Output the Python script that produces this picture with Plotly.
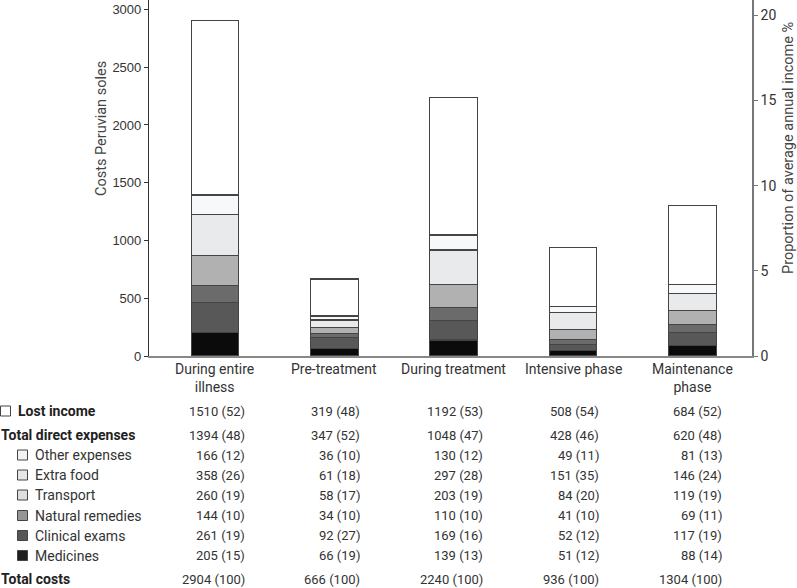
import plotly.graph_objects as go

# ---------------- data ----------------
categories = ["During entire<br>illness", "Pre-treatment", "During treatment",
              "Intensive phase", "Maintenance<br>phase"]

medicines = [205, 66, 139, 51, 88]
clinical_exams = [261, 92, 169, 52, 117]
natural_remedies = [144, 34, 110, 41, 69]
transport = [260, 58, 203, 84, 119]
extra_food = [358, 61, 297, 151, 146]
other_expenses = [166, 36, 130, 49, 81]
lost_income = [1510, 319, 1192, 508, 684]
total_direct = [1394, 347, 1048, 428, 620]
total_costs = [2904, 666, 2240, 936, 1304]

pct_lost_income = [52, 48, 53, 54, 52]
pct_total_direct = [48, 52, 47, 46, 48]
pct_other = [12, 10, 12, 11, 13]
pct_extra_food = [26, 18, 28, 35, 24]
pct_transport = [19, 17, 19, 20, 19]
pct_natural = [10, 10, 10, 10, 11]
pct_clinical = [19, 27, 16, 12, 19]
pct_medicines = [15, 19, 13, 12, 14]
pct_total = [100, 100, 100, 100, 100]

# ---------------- layout helpers ----------------
W, H = 797, 588
L, R, T, B = 149, 45, 0, 232
PW, PH = W - L - R, H - T - B


def pxx(px):
    return (px - L) / PW


def pxy(py):
    return (PH - py) / PH


FONT = "Roboto, 'Open Sans', sans-serif"
TXT = "#333333"
xs = list(range(len(categories)))

series = [
    ("Medicines", medicines, "#0b0b0b"),
    ("Clinical exams", clinical_exams, "#585858"),
    ("Natural remedies", natural_remedies, "#6b6b6b"),
    ("Transport", transport, "#b1b1b1"),
    ("Extra food", extra_food, "#e9eaec"),
    ("Other expenses", other_expenses, "#f7f8fa"),
    ("Lost income", lost_income, "#ffffff"),
]

fig = go.Figure()
for name, vals, col in series:
    fig.add_trace(go.Bar(
        x=xs, y=vals, name=name, width=0.40,
        marker=dict(color=col, line=dict(color="#444444", width=1.2)),
        showlegend=False,
    ))
# invisible trace to anchor the right axis
fig.add_trace(go.Scatter(x=[None], y=[None], yaxis="y2", showlegend=False,
                         hoverinfo="skip"))

annotations = []
shapes = []

# category labels
for i, c in enumerate(categories):
    annotations.append(dict(x=i, xref="x", y=pxy(359), yref="paper",
                            text=c, showarrow=False, xanchor="center",
                            yanchor="top",
                            font=dict(family=FONT, size=14, color=TXT)))

# axis titles
annotations.append(dict(x=pxx(101), xref="paper", y=pxy(129), yref="paper",
                        text="Costs Peruvian soles", textangle=-90,
                        showarrow=False, xanchor="center", yanchor="middle",
                        font=dict(family=FONT, size=14.5, color="#444444")))
annotations.append(dict(x=pxx(788), xref="paper", y=pxy(148), yref="paper",
                        text="Proportion of average annual income %",
                        textangle=-90, showarrow=False,
                        xanchor="center", yanchor="middle",
                        font=dict(family=FONT, size=14.5, color="#444444")))

# table rows
rows = [
    ("Lost income", lost_income, pct_lost_income, 411, True, 0, "#ffffff"),
    ("Total direct expenses", total_direct, pct_total_direct, 435, True, None, None),
    ("Other expenses", other_expenses, pct_other, 455, False, 17, "#f2f2f2"),
    ("Extra food", extra_food, pct_extra_food, 475, False, 17, "#e6e6e6"),
    ("Transport", transport, pct_transport, 495, False, 17, "#dedede"),
    ("Natural remedies", natural_remedies, pct_natural, 515.5, False, 17, "#959595"),
    ("Clinical exams", clinical_exams, pct_clinical, 535.5, False, 17, "#565656"),
    ("Medicines", medicines, pct_medicines, 555.5, False, 17, "#1e1e1e"),
    ("Total costs", total_costs, pct_total, 579, True, None, None),
]

col_right = [247, 362, 485, 601, 724]

for label, vals, pcts, py, bold, sqx, sqcol in rows:
    if sqx is None:
        tx = -1
    else:
        tx = sqx + 16
        shapes.append(dict(type="rect", xref="paper", yref="paper",
                           x0=pxx(sqx + 0.5), x1=pxx(sqx + 10.5),
                           y0=pxy(py + 5), y1=pxy(py - 5),
                           line=dict(color="#444444", width=1),
                           fillcolor=sqcol))
    txt = f"<b>{label}</b>" if bold else label
    annotations.append(dict(x=pxx(tx), xref="paper", y=pxy(py), yref="paper",
                            text=txt, showarrow=False, xanchor="left",
                            yanchor="middle",
                            font=dict(family=FONT, size=14,
                                      color="#222222" if bold else TXT)))
    for j, (v, p) in enumerate(zip(vals, pcts)):
        annotations.append(dict(x=pxx(col_right[j]), xref="paper", y=pxy(py),
                                yref="paper", text=f"{v} ({p})",
                                showarrow=False, xanchor="right",
                                yanchor="middle",
                                font=dict(family=FONT, size=13, color=TXT)))

fig.update_layout(
    width=W, height=H,
    margin=dict(l=L, r=R, t=T, b=B),
    barmode="stack",
    plot_bgcolor="white", paper_bgcolor="white",
    showlegend=False,
    xaxis=dict(range=[-0.553, 4.50], showticklabels=False, ticks="",
               showline=True, linecolor="#888888", linewidth=1.5,
               showgrid=False, zeroline=False, fixedrange=True),
    yaxis=dict(range=[0, 3082], tickvals=[0, 500, 1000, 1500, 2000, 2500, 3000],
               ticks="outside", ticklen=4, tickcolor="#333333",
               showline=True, linecolor="#333333", linewidth=1.2,
               showgrid=False, zeroline=False,
               tickfont=dict(family="'Liberation Sans', Arial, sans-serif",
                             size=13, color=TXT)),
    yaxis2=dict(range=[0, 20.9], tickvals=[0, 5, 10, 15, 20],
                overlaying="y", side="right", anchor="x",
                ticks="outside", ticklen=4, tickcolor="#777777",
                showline=True, linecolor="#777777", linewidth=1.5,
                showgrid=False, zeroline=False,
                tickfont=dict(family=FONT, size=14, color=TXT)),
    annotations=annotations,
    shapes=shapes,
)

fig.write_html("out.html", config={"displayModeBar": False},
               post_script="document.body.style.margin='0';"
                           "document.body.style.padding='0';")
